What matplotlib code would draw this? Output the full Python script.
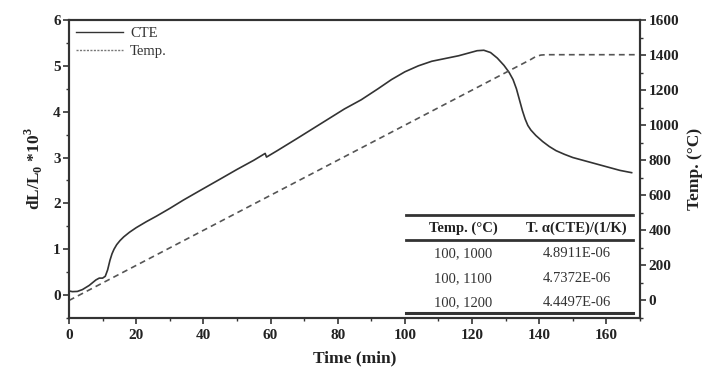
import numpy as np
import matplotlib.pyplot as plt
from matplotlib.lines import Line2D
from matplotlib.ticker import MultipleLocator

plt.rcParams['font.family'] = ['Liberation Serif', 'DejaVu Serif']
plt.rcParams['mathtext.fontset'] = 'custom'
plt.rcParams['mathtext.rm'] = 'Liberation Serif'
plt.rcParams['mathtext.bf'] = 'Liberation Serif:bold'

# CTE curve (dL/L0 * 10^3) vs time (min)
tiempo_cte = [0, 1, 2.5, 4, 6, 8, 9, 10, 10.8, 11.5, 12.2, 12.8, 13.4, 14.2, 15.2, 16.3, 18,
              20, 23, 26, 30, 34, 39, 45, 50, 55, 58.4, 58.8, 62, 68, 75, 82, 87, 92, 96,
              100, 104, 108, 112, 116, 119, 121.5, 123.5, 125.5, 127.5, 129.5, 131, 132.2,
              133.2, 134.1, 135, 135.8, 136.6, 137.5, 139, 141, 143, 145, 147.5, 150, 155,
              160, 164, 167.5]
cte = [0.09, 0.075, 0.08, 0.12, 0.21, 0.33, 0.37, 0.37, 0.41, 0.55, 0.76, 0.9, 1.0, 1.1,
       1.19, 1.27, 1.37, 1.47, 1.60, 1.72, 1.89, 2.07, 2.28, 2.53, 2.74, 2.94, 3.09, 3.01,
       3.15, 3.42, 3.74, 4.06, 4.26, 4.50, 4.70, 4.87, 5.00, 5.10, 5.16, 5.22, 5.28, 5.33,
       5.34, 5.29, 5.17, 5.01, 4.86, 4.70, 4.50, 4.26, 4.02, 3.84, 3.70, 3.60, 3.48, 3.35,
       3.24, 3.15, 3.07, 3.00, 2.90, 2.80, 2.72, 2.67]

# temperatura programada
tiempo_temp = [0, 137.5, 139, 140.5, 142, 168.5]
temp = [0, 1375, 1392, 1400, 1402, 1402]

# tabla
tabla_cabecera = ["Temp. (°C)", "T. α(CTE)/(1/K)"]
tabla_temp = ["100, 1000", "100, 1100", "100, 1200"]
tabla_alpha = ["4.8911E-06", "4.7372E-06", "4.4497E-06"]

gris = "#333333"

fig = plt.figure(figsize=(7.18, 3.89), dpi=100)
ax = fig.add_axes([0.0961, 0.1825, 0.7953, 0.7661])
ax2 = ax.twinx()

ax.plot(tiempo_cte, cte, color=gris, lw=1.2)
ax2.plot(tiempo_temp, temp, color="#555555", lw=1.2, ls=(0, (3.5, 2.5)))

ax.set_xlim(0, 170)
ax.set_ylim(-0.5, 6)
ax2.set_ylim(-100, 1600)

ax.xaxis.set_major_locator(MultipleLocator(20))
ax.xaxis.set_minor_locator(MultipleLocator(10))
ax.yaxis.set_major_locator(MultipleLocator(1))
ax.yaxis.set_minor_locator(MultipleLocator(0.5))
ax2.yaxis.set_major_locator(MultipleLocator(200))
ax2.yaxis.set_minor_locator(MultipleLocator(100))

for a in (ax, ax2):
    for s in a.spines.values():
        s.set_color(gris)
        s.set_linewidth(1.5)
    a.tick_params(which="major", direction="out", length=4, width=1.2, color=gris,
                  labelsize=11, labelcolor="#222222", pad=2)
    a.tick_params(which="minor", direction="out", length=2.5, width=1.0, color=gris)
    for lab in a.get_xticklabels() + a.get_yticklabels():
        lab.set_fontweight("bold")
ax.tick_params(axis="x", pad=4)

ax.set_xlabel("Time (min)", fontsize=12.5, fontweight="bold", color="#222222", labelpad=6)
ax.set_ylabel(r"dL/L$_\mathbf{0}$ *10$^\mathbf{3}$", fontsize=12.5, fontweight="bold",
              color="#222222", labelpad=6)
ax2.set_ylabel("Temp. (°C)", fontsize=12.5, fontweight="bold", color="#222222", labelpad=6)

handles = [Line2D([], [], color=gris, lw=1.0),
           Line2D([], [], color="#777777", lw=1.0, ls=(0, (1.5, 1)))]
ax.legend(handles, ["CTE", "Temp."], loc="upper left", frameon=False, fontsize=10.5,
          handlelength=3.2, handletextpad=0.5, labelspacing=0.3,
          borderaxespad=0.1, labelcolor="#333333")

# tabla dentro del grafico
tr = ax.transAxes
ax.plot([0.590, 0.988], [0.346, 0.346], color=gris, lw=2.0, transform=tr, clip_on=False)
ax.plot([0.590, 0.988], [0.262, 0.262], color=gris, lw=2.0, transform=tr, clip_on=False)
ax.plot([0.590, 0.988], [0.016, 0.016], color=gris, lw=2.2, transform=tr, clip_on=False)
cols = [0.690, 0.889]
ax.text(cols[0], 0.301, tabla_cabecera[0], transform=tr, ha="center", va="center",
        fontsize=10.5, fontweight="bold", color="#222222")
ax.text(cols[1], 0.301, tabla_cabecera[1], transform=tr, ha="center", va="center",
        fontsize=10.5, fontweight="bold", color="#222222")
for y, a_, b_ in zip([0.217, 0.133, 0.051], tabla_temp, tabla_alpha):
    ax.text(cols[0], y, a_, transform=tr, ha="center", va="center", fontsize=10.5, color="#333333")
    ax.text(cols[1], y, b_, transform=tr, ha="center", va="center", fontsize=10.5, color="#333333")

fig.savefig("out.png", dpi=100)
